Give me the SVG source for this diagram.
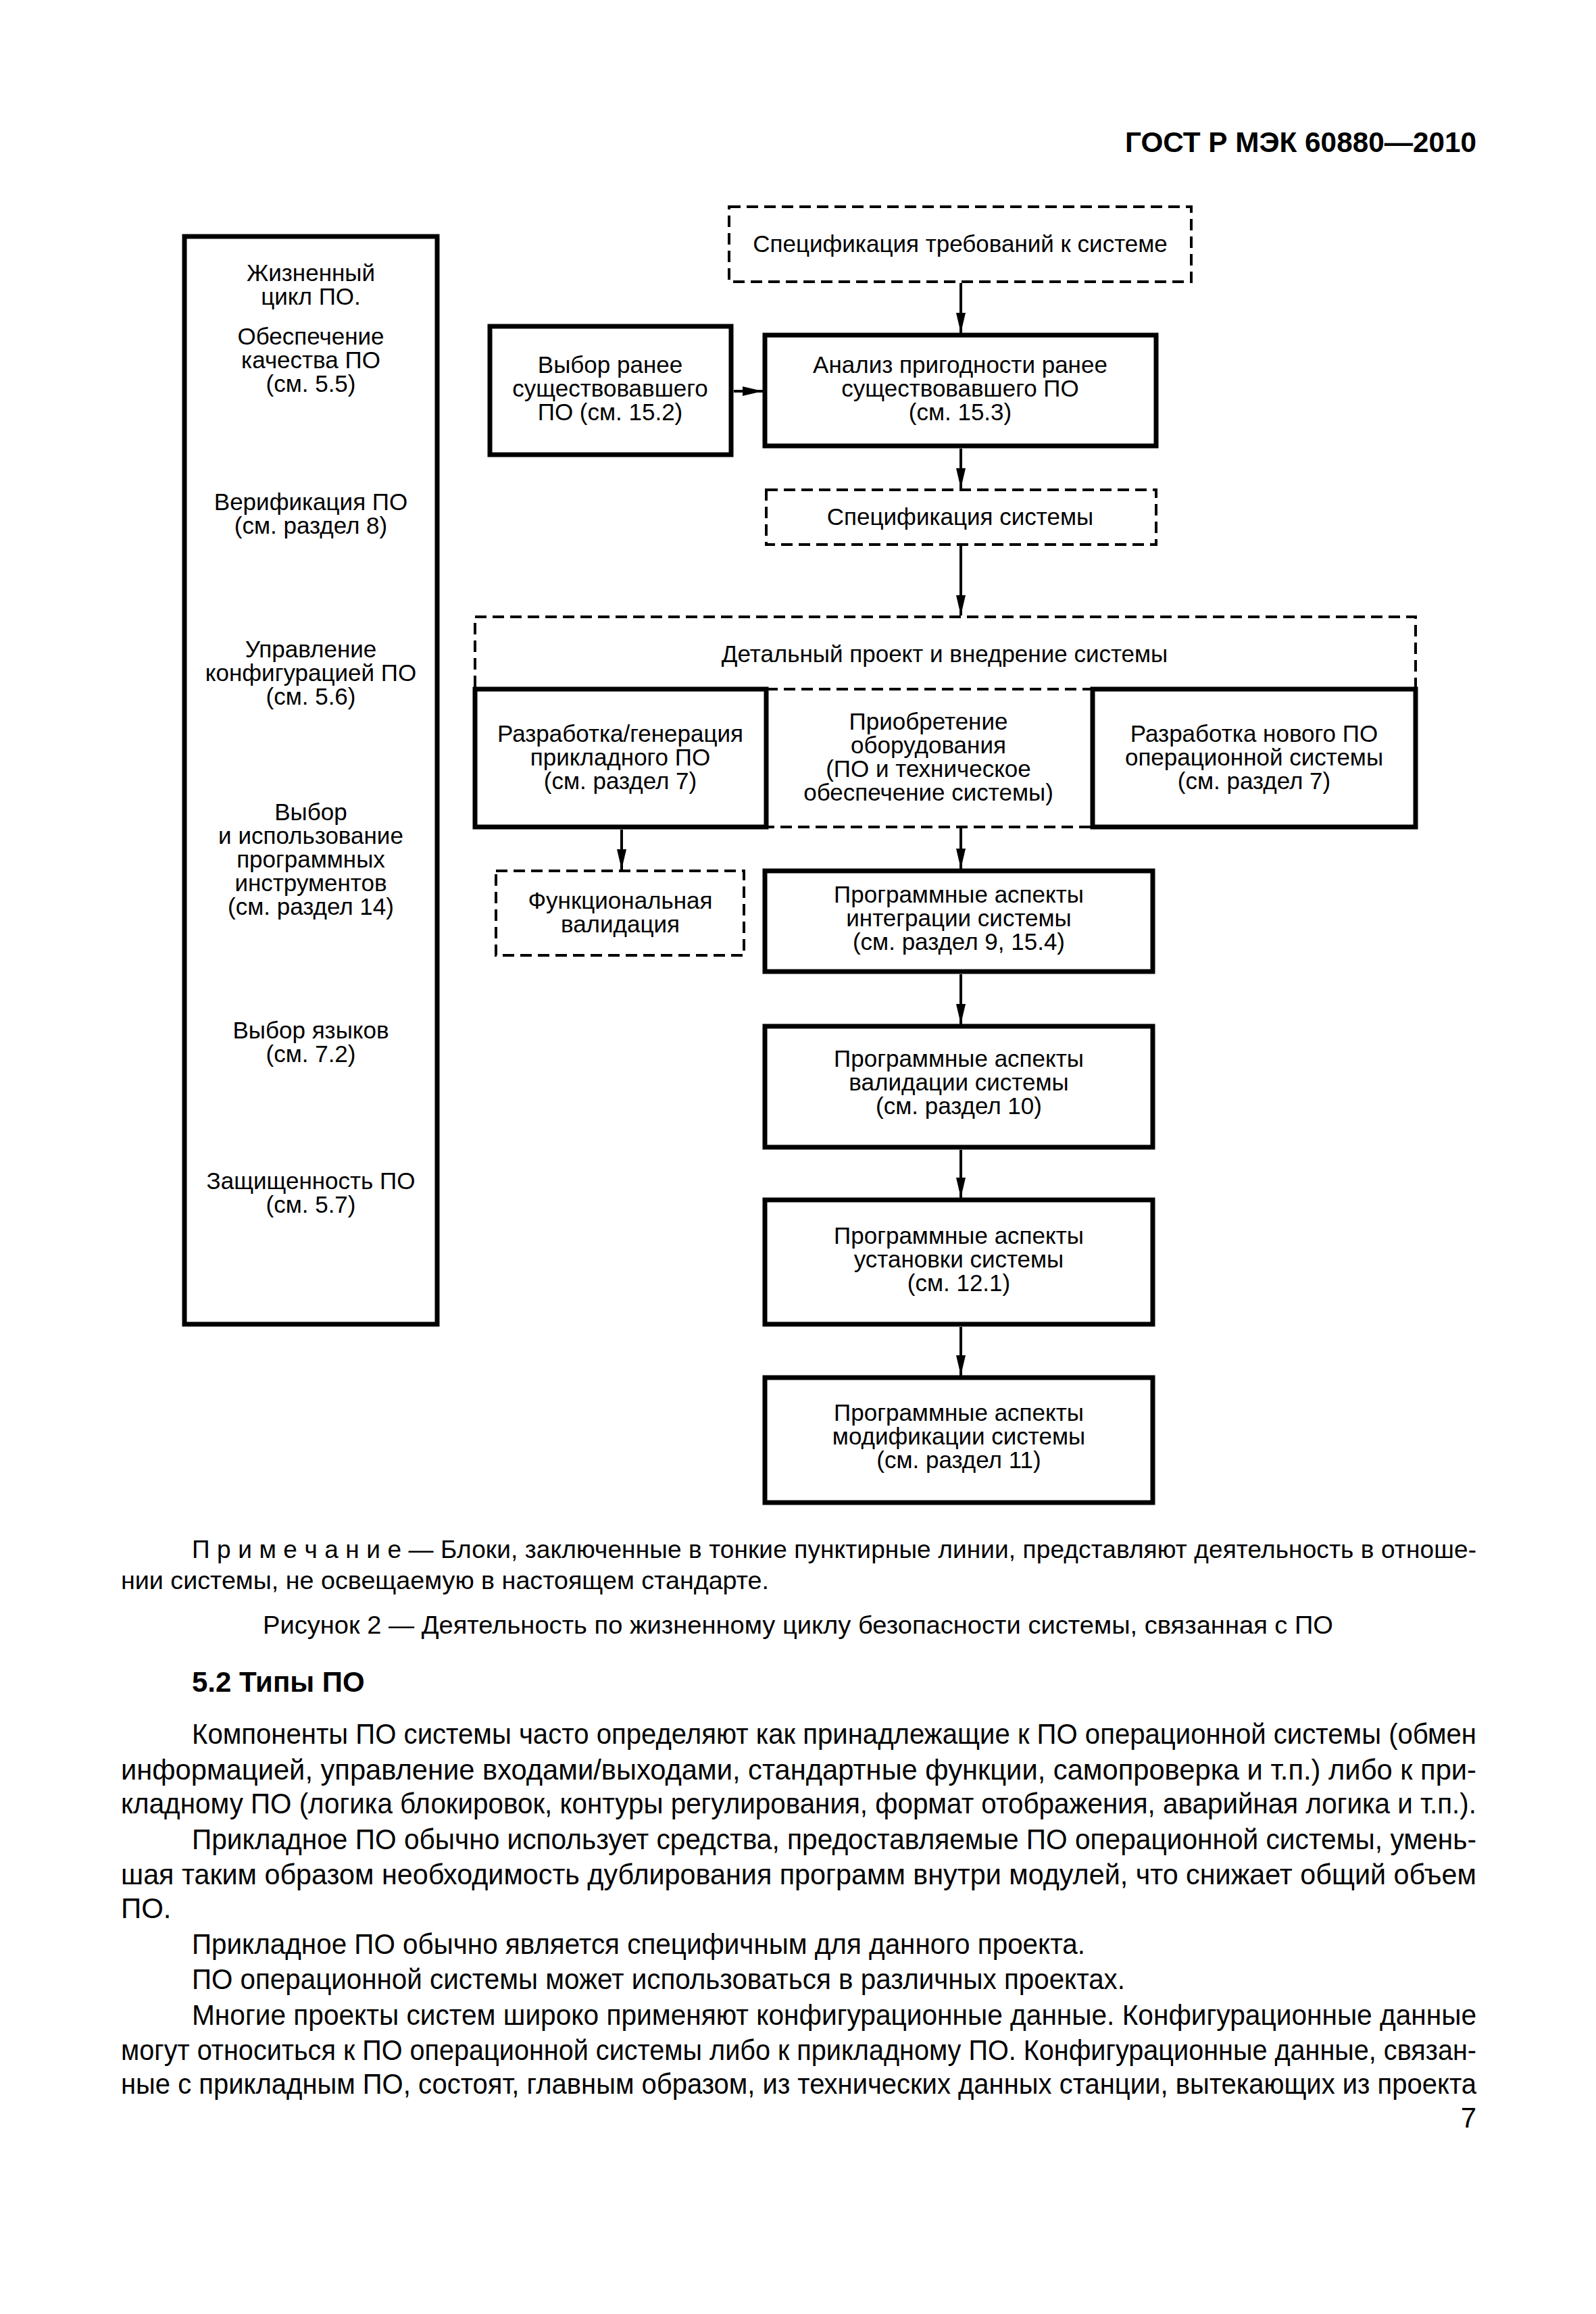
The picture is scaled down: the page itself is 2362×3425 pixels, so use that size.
<svg xmlns="http://www.w3.org/2000/svg" width="2362" height="3425" viewBox="0 0 2362 3425">
<style>
.solid{fill:#fff;stroke:#000;stroke-width:7}
.dash{fill:#fff;stroke:#000;stroke-width:4;stroke-dasharray:17 9}
.dl{fill:none;stroke:#000;stroke-width:4;stroke-dasharray:17 9}
.t{font-family:"Liberation Sans",Arial,sans-serif;font-size:35px;text-anchor:middle;fill:#000}
.b{font-family:"Liberation Sans",Arial,sans-serif;font-size:42px;fill:#000}
.n{font-family:"Liberation Sans",Arial,sans-serif;font-size:37px;fill:#000}
.conn{stroke:#000;stroke-width:4;fill:none;marker-end:url(#arr)}
</style>
<defs>
<marker id="arr" markerUnits="userSpaceOnUse" viewBox="0 0 30 14" markerWidth="30" markerHeight="14" refX="30" refY="7" orient="auto">
<path d="M0,0 L30,7 L0,14 z" fill="#000"/>
</marker>
</defs>
<rect width="2362" height="3425" fill="#fff"/>
<text x="2185" y="225" text-anchor="end" textLength="520" lengthAdjust="spacingAndGlyphs" style="font-family:'Liberation Sans',Arial,sans-serif;font-size:42px;font-weight:bold">ГОСТ Р МЭК 60880—2010</text>

<g id="lifecycle">
<rect class="solid" x="273" y="350" width="374" height="1610"/>
<text class="t" x="460" y="416">Жизненный</text>
<text class="t" x="460" y="451">цикл ПО.</text>
<text class="t" x="460" y="510">Обеспечение</text>
<text class="t" x="460" y="545">качества ПО</text>
<text class="t" x="460" y="580">(см. 5.5)</text>
<text class="t" x="460" y="755">Верификация ПО</text>
<text class="t" x="460" y="790">(см. раздел 8)</text>
<text class="t" x="460" y="973">Управление</text>
<text class="t" x="460" y="1008">конфигурацией ПО</text>
<text class="t" x="460" y="1043">(см. 5.6)</text>
<text class="t" x="460" y="1214">Выбор</text>
<text class="t" x="460" y="1249">и использование</text>
<text class="t" x="460" y="1284">программных</text>
<text class="t" x="460" y="1319">инструментов</text>
<text class="t" x="460" y="1354">(см. раздел 14)</text>
<text class="t" x="460" y="1537">Выбор языков</text>
<text class="t" x="460" y="1572">(см. 7.2)</text>
<text class="t" x="460" y="1760">Защищенность ПО</text>
<text class="t" x="460" y="1795">(см. 5.7)</text>
</g>

<g id="sysreq">
<rect class="dash" x="1079" y="306" width="684" height="111"/>
<text class="t" x="1421" y="373">Спецификация требований к системе</text>
</g>
<g id="select">
<rect class="solid" x="725" y="483" width="357" height="190"/>
<text class="t" x="903" y="552">Выбор ранее</text>
<text class="t" x="903" y="587">существовавшего</text>
<text class="t" x="903" y="622">ПО (см. 15.2)</text>
</g>
<g id="analysis">
<rect class="solid" x="1132" y="496" width="579" height="164"/>
<text class="t" x="1421" y="552">Анализ пригодности ранее</text>
<text class="t" x="1421" y="587">существовавшего ПО</text>
<text class="t" x="1421" y="622">(см. 15.3)</text>
</g>
<g id="sysspec">
<rect class="dash" x="1134" y="725" width="577" height="81"/>
<text class="t" x="1421" y="777">Спецификация системы</text>
</g>
<g id="detail">
<rect class="dash" x="703" y="913" width="1392" height="311"/>
<text class="t" x="1398" y="980">Детальный проект и внедрение системы</text>
</g>
<g id="appdev">
<rect class="solid" x="703" y="1020" width="431" height="204"/>
<text class="t" x="918" y="1098">Разработка/генерация</text>
<text class="t" x="918" y="1133">прикладного ПО</text>
<text class="t" x="918" y="1168">(см. раздел 7)</text>
</g>
<g id="hardware">
<line class="dl" x1="1134" y1="1020" x2="1617" y2="1020"/>
<text class="t" x="1374" y="1080">Приобретение</text>
<text class="t" x="1374" y="1115">оборудования</text>
<text class="t" x="1374" y="1150">(ПО и техническое</text>
<text class="t" x="1374" y="1185">обеспечение системы)</text>
</g>
<g id="osdev">
<rect class="solid" x="1617" y="1020" width="478" height="204"/>
<text class="t" x="1856" y="1098">Разработка нового ПО</text>
<text class="t" x="1856" y="1133">операционной системы</text>
<text class="t" x="1856" y="1168">(см. раздел 7)</text>
</g>
<g id="funcval">
<rect class="dash" x="734" y="1289" width="367" height="125"/>
<text class="t" x="918" y="1345">Функциональная</text>
<text class="t" x="918" y="1380">валидация</text>
</g>
<g id="integration">
<rect class="solid" x="1132" y="1289" width="574" height="149"/>
<text class="t" x="1419" y="1336">Программные аспекты</text>
<text class="t" x="1419" y="1371">интеграции системы</text>
<text class="t" x="1419" y="1406">(см. раздел 9, 15.4)</text>
</g>
<g id="validation">
<rect class="solid" x="1132" y="1519" width="574" height="179"/>
<text class="t" x="1419" y="1579">Программные аспекты</text>
<text class="t" x="1419" y="1614">валидации системы</text>
<text class="t" x="1419" y="1649">(см. раздел 10)</text>
</g>
<g id="installation">
<rect class="solid" x="1132" y="1776" width="574" height="184"/>
<text class="t" x="1419" y="1841">Программные аспекты</text>
<text class="t" x="1419" y="1876">установки системы</text>
<text class="t" x="1419" y="1911">(см. 12.1)</text>
</g>
<g id="modification">
<rect class="solid" x="1132" y="2039" width="574" height="185"/>
<text class="t" x="1419" y="2103">Программные аспекты</text>
<text class="t" x="1419" y="2138">модификации системы</text>
<text class="t" x="1419" y="2173">(см. раздел 11)</text>
</g>

<g id="connectors">
<line class="conn" x1="1422" y1="419" x2="1422" y2="493"/>
<line class="conn" x1="1086" y1="579" x2="1129" y2="579"/>
<line class="conn" x1="1422" y1="664" x2="1422" y2="723"/>
<line class="conn" x1="1422" y1="808" x2="1422" y2="911"/>
<line class="conn" x1="920" y1="1228" x2="920" y2="1287"/>
<line class="conn" x1="1422" y1="1226" x2="1422" y2="1286"/>
<line class="conn" x1="1422" y1="1442" x2="1422" y2="1516"/>
<line class="conn" x1="1422" y1="1702" x2="1422" y2="1773"/>
<line class="conn" x1="1422" y1="1964" x2="1422" y2="2036"/>
</g>

<g id="text">
<text class="n" x="284" y="2306" textLength="1901" lengthAdjust="spacing">П р и м е ч а н и е — Блоки, заключенные в тонкие пунктирные линии, представляют деятельность в отноше-</text>
<text class="n" x="179" y="2352" textLength="959" lengthAdjust="spacingAndGlyphs">нии системы, не освещаемую в настоящем стандарте.</text>
<text class="n" x="389" y="2418" textLength="1584" lengthAdjust="spacingAndGlyphs">Рисунок 2 — Деятельность по жизненному циклу безопасности системы, связанная с ПО</text>
<text class="b" x="284" y="2504" font-weight="bold">5.2 Типы ПО</text>
<text class="b" x="284" y="2581" textLength="1901" lengthAdjust="spacingAndGlyphs">Компоненты ПО системы часто определяют как принадлежащие к ПО операционной системы (обмен</text>
<text class="b" x="179" y="2634" textLength="2006" lengthAdjust="spacingAndGlyphs">информацией, управление входами/выходами, стандартные функции, самопроверка и т.п.) либо к при-</text>
<text class="b" x="179" y="2684" textLength="2006" lengthAdjust="spacingAndGlyphs">кладному ПО (логика блокировок, контуры регулирования, формат отображения, аварийная логика и т.п.).</text>
<text class="b" x="284" y="2737" textLength="1901" lengthAdjust="spacingAndGlyphs">Прикладное ПО обычно использует средства, предоставляемые ПО операционной системы, умень-</text>
<text class="b" x="179" y="2789" textLength="2006" lengthAdjust="spacingAndGlyphs">шая таким образом необходимость дублирования программ внутри модулей, что снижает общий объем</text>
<text class="b" x="179" y="2839">ПО.</text>
<text class="b" x="284" y="2892" textLength="1322" lengthAdjust="spacingAndGlyphs">Прикладное ПО обычно является специфичным для данного проекта.</text>
<text class="b" x="284" y="2944" textLength="1381" lengthAdjust="spacingAndGlyphs">ПО операционной системы может использоваться в различных проектах.</text>
<text class="b" x="284" y="2997" textLength="1901" lengthAdjust="spacingAndGlyphs">Многие проекты систем широко применяют конфигурационные данные. Конфигурационные данные</text>
<text class="b" x="179" y="3049" textLength="2006" lengthAdjust="spacingAndGlyphs">могут относиться к ПО операционной системы либо к прикладному ПО. Конфигурационные данные, связан-</text>
<text class="b" x="179" y="3099" textLength="2006" lengthAdjust="spacingAndGlyphs">ные с прикладным ПО, состоят, главным образом, из технических данных станции, вытекающих из проекта</text>
<text class="b" x="2185" y="3149" text-anchor="end">7</text>
</g>
</svg>
